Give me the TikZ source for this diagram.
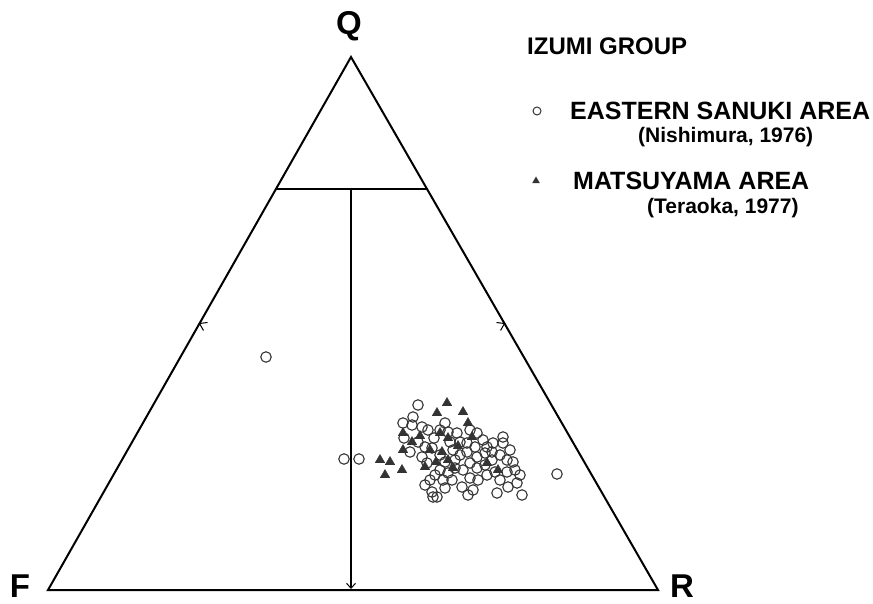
\documentclass[tikz,border=0pt]{standalone}
\usepackage{fontspec}
\setmainfont{Liberation Sans}
\usetikzlibrary{arrows.meta,calc,shapes.geometric}
\begin{document}
\begin{tikzpicture}[x=1pt,y=-1pt,
  side/.style={line width=2pt,line join=miter},
  inner/.style={line width=1.2pt},
  tickmark/.style={line width=1pt},
  corner/.style={font=\bfseries\fontsize{33}{33}\selectfont,inner sep=0pt},
  legtitle/.style={font=\fontsize{24}{24}\selectfont\bfseries,anchor=base west,inner sep=0pt},
  legtext/.style={font=\fontsize{25}{25}\selectfont\bfseries,anchor=base west,inner sep=0pt},
  legcite/.style={font=\fontsize{21}{21}\selectfont\bfseries,anchor=base west,inner sep=0pt},
  circ/.style={circle,draw=black!80,line width=1.1pt,minimum size=10.5pt,inner sep=0pt},
  tri/.style={regular polygon,regular polygon sides=3,fill=black!80,draw=black!80,minimum size=11pt,inner sep=0pt},
  legcirc/.style={circle,draw=black!80,line width=1pt,minimum size=8pt,inner sep=0pt},
  legtri/.style={regular polygon,regular polygon sides=3,fill=black!80,minimum size=9pt,inner sep=0pt}]
\useasboundingbox (0,0) rectangle (873,604);
% triangle corners
\coordinate (cQ) at (351,57);
\coordinate (cF) at (48,590);
\coordinate (cR) at (658,590);
\draw[side] (cF) -- (cQ) -- (cR) -- cycle;
% inner lines
\coordinate (hl) at ($(cF)!0.7523!(cQ)$);
\coordinate (hr) at ($(cR)!0.7523!(cQ)$);
\coordinate (vt) at (351,189);
\coordinate (vb) at (351,589);
\draw[inner] (hl) -- (hr);
\draw[inner,-{Straight Barb[length=5pt,width=9pt,line width=1pt]}] (vt) -- (vb);
% mid-side marks
\coordinate (ml) at ($(cF)!0.5!(cQ)$);
\coordinate (mr) at ($(cR)!0.5!(cQ)$);
\draw[tickmark] ($(ml)+(8,-1)$) -- (ml) -- ($(ml)+(4,7)$);
\draw[tickmark] ($(mr)+(-8,-1)$) -- (mr) -- ($(mr)+(-4,7)$);
% corner labels
\node[corner] (Q) at (349,26) {Q};
\node[corner] (F) at (20,586) {F};
\node[corner] (R) at (682,586) {R};
% legend
\node[legtitle] (title) at (527,55) {IZUMI GROUP};
\node[legcirc] (lc) at (537,111) {};
\node[legtext] (esa) at (570,120) {EASTERN SANUKI AREA};
\node[legcite] (nis) at (638,143) {(Nishimura, 1976)};
\node[legtri] (lt) at (536,181) {};
\node[legtext] (mat) at (573,190) {MATSUYAMA AREA};
\node[legcite] (ter) at (647,214) {(Teraoka, 1977)};
% data: circles
\foreach [count=\i] \p in {(266,357),(344,459),(359,459),(557,474),
 (418,405),(413,417),(403,423),(412,425),(422,427),(428,430),(445,423),(440,430),(448,432),(457,433),
 (470,430),(477,433),(460,442),(467,443),(475,447),(450,442),(432,448),(418,442),(425,447),(410,452),
 (422,457),(427,463),(440,455),(445,462),(453,450),(460,455),(467,452),(477,457),(485,453),(487,447),
 (493,443),(503,437),(503,443),(510,450),(507,460),(500,455),(492,460),(485,465),(477,468),(470,463),
 (463,470),(455,468),(448,473),(440,470),(435,475),(430,480),(425,485),(432,492),(437,497),(445,488),
 (452,480),(462,487),(468,495),(473,490),(478,480),(487,475),(495,472),(500,480),(497,493),(507,472),
 (515,470),(520,475),(517,483),(522,495),(508,487),(404,438),(434,438),(455,460),(483,440),(492,452),(513,462),(470,478),(443,480),(433,497)}
  \node[circ] (c\i) at \p {};
% data: triangles
\foreach [count=\i] \p in {(447,403),(437,413),(463,412),(403,433),(412,442),(403,450),(440,433),(448,438),
 (430,450),(442,452),(448,460),(453,468),(468,423),(472,437),(380,460),(390,462),(385,475),(402,470),
 (425,467),(487,463),(498,470),(420,436),(458,446),(436,462)}
  \node[tri] (t\i) at \p {};
\end{tikzpicture}
\end{document}
